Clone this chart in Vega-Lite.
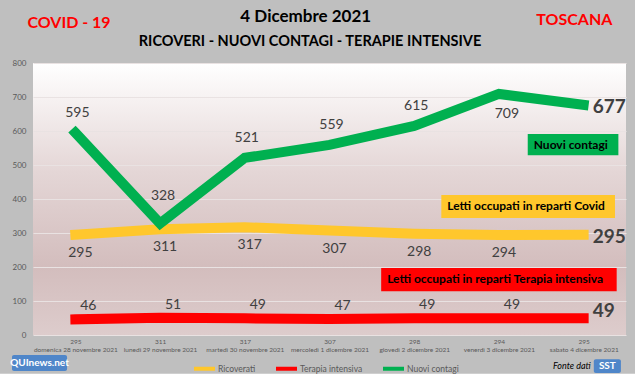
{
  "$schema": "https://vega.github.io/schema/vega-lite/v6.json",
  "width": 593,
  "height": 272,
  "autosize": {"type": "none"},
  "padding": {"left": 33, "top": 63, "right": 9, "bottom": 45},
  "background": "#bfbfbf",
  "view": {
    "stroke": null,
    "fill": {
      "gradient": "linear", "x1": 0, "y1": 0, "x2": 0, "y2": 1,
      "stops": [
        {"offset": 0, "color": "#ffffff"},
        {"offset": 0.4, "color": "#e4d6d6"},
        {"offset": 0.75, "color": "#d3bdbd"},
        {"offset": 1, "color": "#ddcccc"}
      ]
    }
  },
  "config": {"font": "Lato"},
  "datasets": {
    "serie": [
      {"giorno": "295|domenica 28 novembre 2021", "serie": "Ricoverati", "valore": 295},
      {"giorno": "311|lunedì 29 novembre 2021", "serie": "Ricoverati", "valore": 311},
      {"giorno": "317|martedì 30 novembre 2021", "serie": "Ricoverati", "valore": 317},
      {"giorno": "307|mercoledì 1 dicembre 2021", "serie": "Ricoverati", "valore": 307},
      {"giorno": "298|giovedì 2 dicembre 2021", "serie": "Ricoverati", "valore": 298},
      {"giorno": "294|venerdì 3 dicembre 2021", "serie": "Ricoverati", "valore": 294},
      {"giorno": "295|sabato 4 dicembre 2021", "serie": "Ricoverati", "valore": 295},
      {"giorno": "295|domenica 28 novembre 2021", "serie": "Terapia intensiva", "valore": 46},
      {"giorno": "311|lunedì 29 novembre 2021", "serie": "Terapia intensiva", "valore": 51},
      {"giorno": "317|martedì 30 novembre 2021", "serie": "Terapia intensiva", "valore": 49},
      {"giorno": "307|mercoledì 1 dicembre 2021", "serie": "Terapia intensiva", "valore": 47},
      {"giorno": "298|giovedì 2 dicembre 2021", "serie": "Terapia intensiva", "valore": 49},
      {"giorno": "294|venerdì 3 dicembre 2021", "serie": "Terapia intensiva", "valore": 49},
      {"giorno": "295|sabato 4 dicembre 2021", "serie": "Terapia intensiva", "valore": 49},
      {"giorno": "295|domenica 28 novembre 2021", "serie": "Nuovi contagi", "valore": 595},
      {"giorno": "311|lunedì 29 novembre 2021", "serie": "Nuovi contagi", "valore": 328},
      {"giorno": "317|martedì 30 novembre 2021", "serie": "Nuovi contagi", "valore": 521},
      {"giorno": "307|mercoledì 1 dicembre 2021", "serie": "Nuovi contagi", "valore": 559},
      {"giorno": "298|giovedì 2 dicembre 2021", "serie": "Nuovi contagi", "valore": 615},
      {"giorno": "294|venerdì 3 dicembre 2021", "serie": "Nuovi contagi", "valore": 709},
      {"giorno": "295|sabato 4 dicembre 2021", "serie": "Nuovi contagi", "valore": 677}
    ],
    "riquadri": [
      {"serie": "Nuovi contagi", "testo": "Nuovi contagi", "x1": 5.84, "x2": 6.91, "y1": 529, "y2": 591},
      {"serie": "Ricoverati", "testo": "Letti occupati in reparti Covid", "x1": 4.82, "x2": 6.87, "y1": 344, "y2": 412},
      {"serie": "Terapia intensiva", "testo": "Letti occupati in reparti Terapia intensiva", "x1": 4.11, "x2": 6.89, "y1": 129, "y2": 197}
    ],
    "intestazioni": [
      {"testo": "COVID - 19", "x": 0.425, "y": 918},
      {"testo": "TOSCANA", "x": 6.39, "y": 926}
    ],
    "titoli": [
      {"testo": "4 Dicembre 2021", "x": 3.22, "y": 936, "livello": "titolo"},
      {"testo": "RICOVERI - NUOVI CONTAGI - TERAPIE INTENSIVE", "x": 3.27, "y": 862, "livello": "sottotitolo"}
    ],
    "loghi": [
      {"nome": "QUInews.net", "x1": -0.248, "x2": 0.402, "y1": -106, "y2": -59, "xc": 0.077, "yc": -82},
      {"nome": "SST", "x1": 6.62, "x2": 6.94, "y1": -112, "y2": -71, "xc": 6.78, "yc": -91}
    ],
    "fonte": [{"testo": "Fonte dati", "x": 6.36, "y": -91}],
    "fascia": [{"x1": -0.5, "x2": 7.2, "y1": -150, "y2": -114}]
  },
  "layer": [
    {
      "layer": [
        {
          "data": {"name": "serie"},
          "mark": {"type": "line", "strokeWidth": 10, "strokeCap": "square", "strokeJoin": "miter"},
          "encoding": {
            "x": {
              "field": "giorno", "type": "ordinal", "sort": null,
              "scale": {"type": "point", "padding": 0.5},
              "axis": {
                "title": null, "labelAngle": 0, "labelExpr": "split(datum.label, '|')",
                "labelFontSize": 6.5, "labelColor": "#595959", "labelLineHeight": 8,
                "labelPadding": 3, "ticks": false, "domain": false, "grid": false
              }
            },
            "y": {
              "field": "valore", "type": "quantitative",
              "scale": {"domain": [0, 800], "nice": false},
              "axis": {
                "title": null, "tickCount": 8, "labelFontSize": 8, "labelColor": "#595959",
                "labelPadding": 7, "ticks": false, "domain": false,
                "grid": true, "gridColor": "#e9e2e2", "gridWidth": 1
              }
            },
            "color": {
              "field": "serie", "type": "nominal",
              "scale": {"domain": ["Ricoverati", "Terapia intensiva", "Nuovi contagi"], "range": ["#ffc72c", "#ff0000", "#00b050"]},
              "legend": {
                "title": null, "orient": "none", "direction": "horizontal",
                "legendX": 159, "legendY": 293,
                "symbolType": "stroke", "symbolSize": 441, "symbolStrokeWidth": 4,
                "labelFontSize": 8.5, "labelColor": "#595959", "labelOffset": 1,
                "columnPadding": 12, "padding": 0
              }
            }
          }
        },
        {
          "data": {"name": "serie"},
          "transform": [{"filter": "datum.serie == 'Ricoverati' && datum.giorno != '295|sabato 4 dicembre 2021'"}],
          "mark": {"type": "text", "dx": 5, "dy": 18, "fontSize": 14, "color": "#404040", "baseline": "middle"},
          "encoding": {"x": {"field": "giorno", "type": "ordinal", "sort": null}, "y": {"field": "valore", "type": "quantitative"}, "text": {"field": "valore"}}
        },
        {
          "data": {"name": "serie"},
          "transform": [{"filter": "datum.serie == 'Terapia intensiva' && datum.giorno != '295|sabato 4 dicembre 2021'"}],
          "mark": {"type": "text", "dx": 13, "dy": -13, "fontSize": 14, "color": "#404040", "baseline": "middle"},
          "encoding": {"x": {"field": "giorno", "type": "ordinal", "sort": null}, "y": {"field": "valore", "type": "quantitative"}, "text": {"field": "valore"}}
        },
        {
          "data": {"name": "serie"},
          "transform": [{"filter": "datum.serie == 'Nuovi contagi' && datum.valore != 709 && datum.valore != 328 && datum.giorno != '295|sabato 4 dicembre 2021'"}],
          "mark": {"type": "text", "dx": 2, "dy": -20, "fontSize": 14, "color": "#404040", "baseline": "middle"},
          "encoding": {"x": {"field": "giorno", "type": "ordinal", "sort": null}, "y": {"field": "valore", "type": "quantitative"}, "text": {"field": "valore"}}
        },
        {
          "data": {"name": "serie"},
          "transform": [{"filter": "datum.serie == 'Nuovi contagi' && datum.valore == 328"}],
          "mark": {"type": "text", "dx": 3, "dy": -27, "fontSize": 14, "color": "#404040", "baseline": "middle"},
          "encoding": {"x": {"field": "giorno", "type": "ordinal", "sort": null}, "y": {"field": "valore", "type": "quantitative"}, "text": {"field": "valore"}}
        },
        {
          "data": {"name": "serie"},
          "transform": [{"filter": "datum.serie == 'Nuovi contagi' && datum.valore == 709"}],
          "mark": {"type": "text", "dx": 8, "dy": 20, "fontSize": 14, "color": "#404040", "baseline": "middle"},
          "encoding": {"x": {"field": "giorno", "type": "ordinal", "sort": null}, "y": {"field": "valore", "type": "quantitative"}, "text": {"field": "valore"}}
        },
        {
          "data": {"name": "serie"},
          "transform": [{"filter": "datum.serie != 'Terapia intensiva' && datum.giorno == '295|sabato 4 dicembre 2021'"}],
          "mark": {"type": "text", "dx": 9, "dy": 2, "fontSize": 19, "fontWeight": "bold", "color": "#404040", "align": "left", "baseline": "middle"},
          "encoding": {"x": {"field": "giorno", "type": "ordinal", "sort": null}, "y": {"field": "valore", "type": "quantitative"}, "text": {"field": "valore"}}
        },
        {
          "data": {"name": "serie"},
          "transform": [{"filter": "datum.serie == 'Terapia intensiva' && datum.giorno == '295|sabato 4 dicembre 2021'"}],
          "mark": {"type": "text", "dx": 9, "dy": -7, "fontSize": 19, "fontWeight": "bold", "color": "#404040", "align": "left", "baseline": "middle"},
          "encoding": {"x": {"field": "giorno", "type": "ordinal", "sort": null}, "y": {"field": "valore", "type": "quantitative"}, "text": {"field": "valore"}}
        }
      ]
    },
    {
      "layer": [
        {
          "data": {"name": "riquadri"},
          "mark": {"type": "rect"},
          "encoding": {
            "x": {"field": "x1", "type": "quantitative", "scale": {"domain": [0, 7], "nice": false, "zero": false}, "axis": null},
            "x2": {"field": "x2"},
            "y": {"field": "y1", "type": "quantitative"},
            "y2": {"field": "y2"},
            "color": {"field": "serie", "type": "nominal"}
          }
        },
        {
          "data": {"name": "riquadri"},
          "mark": {"type": "text", "align": "left", "baseline": "middle", "dx": 6, "dy": 11, "fontSize": 12, "fontWeight": "bold", "color": "#000000"},
          "encoding": {
            "x": {"field": "x1", "type": "quantitative"},
            "y": {"field": "y2", "type": "quantitative"},
            "text": {"field": "testo"}
          }
        },
        {
          "data": {"name": "intestazioni"},
          "mark": {"type": "text", "align": "center", "baseline": "middle", "fontSize": 16, "fontWeight": "bold", "color": "#ff0000"},
          "encoding": {
            "x": {"field": "x", "type": "quantitative"},
            "y": {"field": "y", "type": "quantitative"},
            "text": {"field": "testo"}
          }
        },
        {
          "data": {"name": "titoli"},
          "transform": [{"filter": "datum.livello == 'titolo'"}],
          "mark": {"type": "text", "align": "center", "baseline": "middle", "fontSize": 17, "fontWeight": "bold", "color": "#000000"},
          "encoding": {
            "x": {"field": "x", "type": "quantitative"},
            "y": {"field": "y", "type": "quantitative"},
            "text": {"field": "testo"}
          }
        },
        {
          "data": {"name": "titoli"},
          "transform": [{"filter": "datum.livello == 'sottotitolo'"}],
          "mark": {"type": "text", "align": "center", "baseline": "middle", "fontSize": 14.5, "fontWeight": "bold", "color": "#000000"},
          "encoding": {
            "x": {"field": "x", "type": "quantitative"},
            "y": {"field": "y", "type": "quantitative"},
            "text": {"field": "testo"}
          }
        },
        {
          "data": {"name": "fascia"},
          "mark": {"type": "rect", "color": "#ffffff"},
          "encoding": {
            "x": {"field": "x1", "type": "quantitative"},
            "x2": {"field": "x2"},
            "y": {"field": "y1", "type": "quantitative"},
            "y2": {"field": "y2"}
          }
        },
        {
          "data": {"name": "loghi"},
          "mark": {"type": "rect", "color": "#4f86c9", "cornerRadius": 2},
          "encoding": {
            "x": {"field": "x1", "type": "quantitative"},
            "x2": {"field": "x2"},
            "y": {"field": "y1", "type": "quantitative"},
            "y2": {"field": "y2"}
          }
        },
        {
          "data": {"name": "loghi"},
          "mark": {"type": "text", "align": "center", "baseline": "middle", "fontSize": 10, "fontWeight": "bold", "color": "#ffffff"},
          "encoding": {
            "x": {"field": "xc", "type": "quantitative"},
            "y": {"field": "yc", "type": "quantitative"},
            "text": {"field": "nome"}
          }
        },
        {
          "data": {"name": "fonte"},
          "mark": {"type": "text", "align": "center", "baseline": "middle", "fontSize": 9, "fontStyle": "italic", "color": "#000000"},
          "encoding": {
            "x": {"field": "x", "type": "quantitative"},
            "y": {"field": "y", "type": "quantitative"},
            "text": {"field": "testo"}
          }
        }
      ]
    }
  ],
  "resolve": {"scale": {"x": "independent"}}
}
